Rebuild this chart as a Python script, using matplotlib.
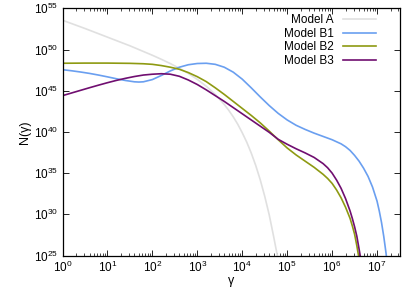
import numpy as np
import matplotlib
matplotlib.use("Agg")
import matplotlib.pyplot as plt
from matplotlib.ticker import LogLocator, FixedLocator, NullFormatter

plt.rcParams['font.family'] = ['Liberation Sans', 'DejaVu Sans']
plt.rcParams['mathtext.fontset'] = 'custom'
plt.rcParams['mathtext.rm'] = 'Liberation Sans'

# log10(gamma), log10(N)
a_lg = [0.0, 0.5, 1.0, 1.5, 2.0, 2.2, 2.4, 2.62, 2.8, 3.0, 3.2, 3.4, 3.6, 3.7, 3.8, 3.9, 4.0, 4.1, 4.2,
        4.3, 4.4, 4.5, 4.6, 4.7, 4.77, 4.8]
a_ln = [53.55, 52.55, 51.5, 50.45, 49.3, 48.81, 48.29, 47.66, 47.09, 46.37, 45.54, 44.55, 43.33, 42.62, 41.83,
        40.93, 39.9, 38.76, 37.44, 35.93, 34.2, 32.2, 29.95, 27.27, 25.3, 24.4]

b1_lg = [0.0, 0.2, 0.4, 0.6, 0.8, 1.0, 1.2, 1.4, 1.6, 1.7, 1.8, 2.0, 2.2, 2.4, 2.6, 2.8, 3.0, 3.2, 3.4, 3.6,
         3.8, 4.0, 4.2, 4.4, 4.6, 4.8, 5.0, 5.2, 5.4, 5.6, 5.8, 6.0, 6.2, 6.3, 6.4, 6.5, 6.6, 6.7, 6.8, 6.9,
         7.0, 7.05, 7.1, 7.15, 7.2, 7.25]
b1_ln = [47.55, 47.42, 47.27, 47.1, 46.9, 46.68, 46.45, 46.24, 46.08, 46.05, 46.08, 46.35, 46.85, 47.4, 47.85,
         48.15, 48.3, 48.33, 48.2, 47.85, 47.25, 46.4, 45.35, 44.25, 43.2, 42.25, 41.45, 40.8, 40.3, 39.85,
         39.45, 39.05, 38.55, 38.2, 37.75, 37.15, 36.45, 35.6, 34.6, 33.3, 31.6, 30.4, 29.0, 27.3, 25.3, 23.0]

b2_lg = [0.0, 0.5, 1.0, 1.5, 1.8, 2.0, 2.2, 2.4, 2.6, 2.8, 3.0, 3.2, 3.4, 3.6, 3.8, 4.0, 4.2, 4.4, 4.6, 4.8,
         5.0, 5.2, 5.4, 5.6, 5.8, 5.9, 6.0, 6.1, 6.2, 6.3, 6.4, 6.45, 6.5, 6.55, 6.6, 6.65]
b2_ln = [48.33, 48.35, 48.35, 48.32, 48.27, 48.2, 48.05, 47.85, 47.6, 47.2, 46.7, 46.1, 45.35, 44.55, 43.7,
         42.85, 42.0, 41.1, 40.1, 39.05, 38.05, 37.2, 36.45, 35.7, 34.85, 34.35, 33.75, 32.95, 32.0, 30.85,
         29.5, 28.6, 27.6, 26.2, 24.6, 23.0]

b3_lg = [0.0, 0.2, 0.4, 0.6, 0.8, 1.0, 1.2, 1.4, 1.6, 1.8, 2.0, 2.2, 2.4, 2.6, 2.8, 3.0, 3.2, 3.4, 3.6, 3.8,
         4.0, 4.2, 4.4, 4.6, 4.8, 5.0, 5.2, 5.4, 5.6, 5.8, 5.9, 6.0, 6.1, 6.2, 6.3, 6.4, 6.45, 6.5, 6.55, 6.6,
         6.65]
b3_ln = [44.4, 44.72, 45.04, 45.36, 45.67, 45.97, 46.25, 46.5, 46.72, 46.9, 47.0, 47.06, 47.0, 46.75, 46.3,
         45.75, 45.1, 44.4, 43.7, 42.95, 42.2, 41.45, 40.7, 39.95, 39.1, 38.5, 37.95, 37.45, 36.9, 36.15,
         35.65, 35.0, 34.15, 33.15, 31.9, 30.4, 29.5, 28.5, 27.35, 25.8, 24.2]

labels = ["Model A", "Model B1", "Model B2", "Model B3"]
colors = ["#e0e0e0", "#6a9ff0", "#8e9a12", "#700e70"]
series = [(a_lg, a_ln), (b1_lg, b1_ln), (b2_lg, b2_ln), (b3_lg, b3_ln)]

fig = plt.figure(figsize=(4.15, 2.91), dpi=100)
ax = fig.add_axes([62.5/415, 1 - 255.5/291, 337/415, 247.2/291])

for (lg, ln), c, lab in zip(series, colors, labels):
    ax.plot(10**np.array(lg), 10**np.array(ln), color=c, lw=1.2, label=lab,
            solid_joinstyle='round')

ax.set_xscale('log')
ax.set_yscale('log')
ax.set_xlim(1, 10**7.5)
ax.set_ylim(1e25, 1e55)

ax.xaxis.set_major_locator(FixedLocator([10.0**k for k in range(0, 8)]))
ax.xaxis.set_minor_locator(LogLocator(base=10, subs=np.arange(2, 10), numticks=100))
ax.xaxis.set_minor_formatter(NullFormatter())
ax.yaxis.set_major_locator(FixedLocator([10.0**k for k in range(25, 56, 5)]))
ax.yaxis.set_minor_locator(FixedLocator([]))
ax.set_xticklabels([r'$10^{%d}$' % k for k in range(0, 8)])
ax.set_yticklabels([r'$10^{%d}$' % k for k in range(25, 56, 5)])

ax.tick_params(which='both', direction='in', top=True, right=True, labelsize=8.5, pad=3)
ax.tick_params(which='major', length=4, width=0.6)
ax.tick_params(which='minor', length=2, width=0.5)
for s in ax.spines.values():
    s.set_linewidth(0.9)

ax.set_xlabel('γ', fontsize=9, labelpad=0)
ax.set_ylabel('N(γ)', fontsize=9, labelpad=2)

leg = ax.legend(loc='upper right', bbox_to_anchor=(0.93, 0.975), frameon=False, markerfirst=False,
                fontsize=8.5, handlelength=2.8, handletextpad=0.75, labelspacing=0.12, borderpad=0,
                borderaxespad=0)

fig.savefig('out.png', dpi=100)
